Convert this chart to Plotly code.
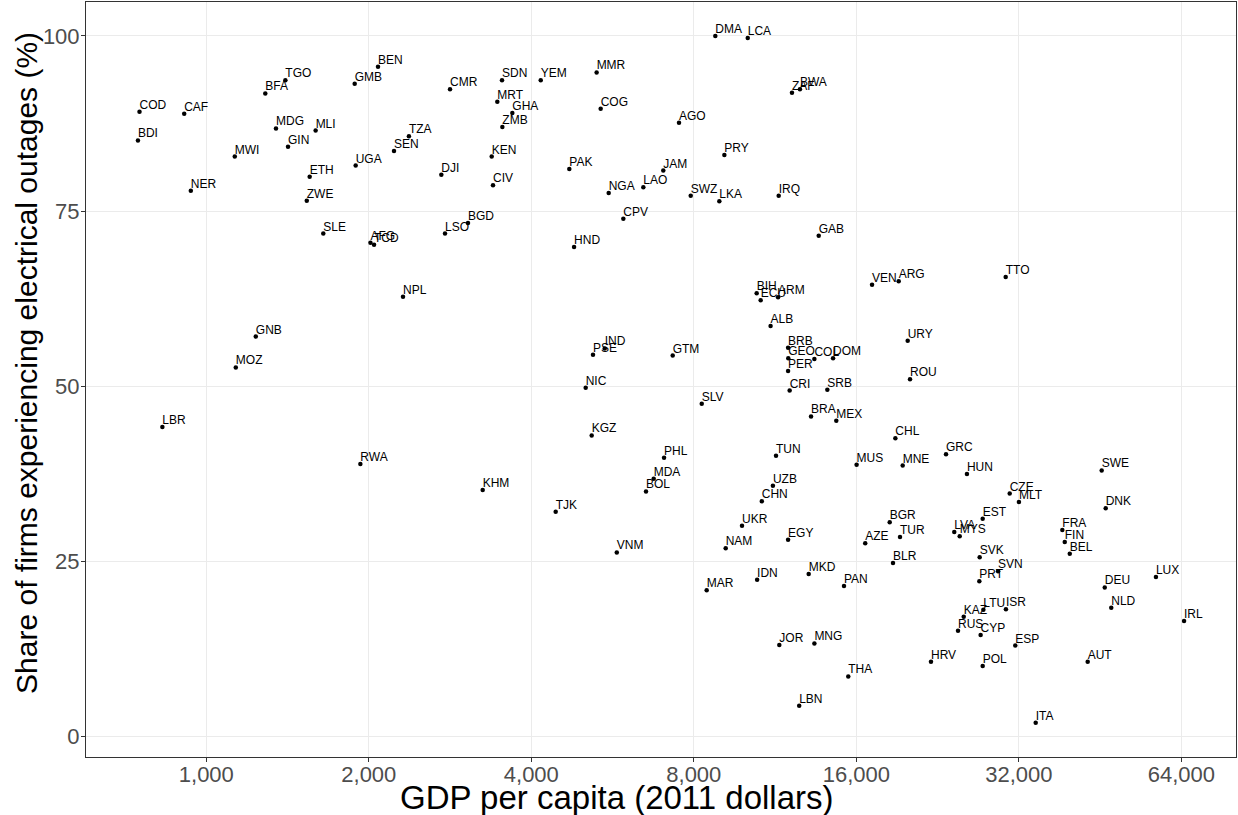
import plotly.graph_objects as go

countries = ["COD","BDI","CAF","NER","LBR","MWI","MOZ","GNB","BFA","MDG","TGO","GIN","ZWE","ETH","MLI","SLE",
             "GMB","UGA","RWA","AFG","TCD","BEN","SEN","NPL","TZA","DJI","LSO","CMR","BGD","KHM","KEN","CIV",
             "MRT","SDN","ZMB","GHA","YEM","TJK","PAK","HND","NIC","KGZ","PSE","MMR","COG","IND","NGA","VNM",
             "CPV","LAO","BOL","MDA","JAM","PHL","GTM","AGO","SWZ","SLV","MAR","DMA","LKA","PRY","NAM","UKR",
             "LCA","BIH","IDN","ECU","CHN","ALB","UZB","TUN","ARM","IRQ","JOR","BRB","PER","EGY","GEO","CRI",
             "ZAF","LBN","BWA","MKD","BRA","COL","MNG","GAB","SRB","DOM","MEX","PAN","THA","MUS","AZE","VEN",
             "BGR","BLR","CHL","ARG","TUR","MNE","URY","ROU","HRV","GRC","LVA","RUS","MYS","KAZ","HUN","PRT",
             "SVK","CYP","EST","POL","LTU","SVN","TTO","ISR","CZE","ESP","MLT","ITA","FRA","FIN","BEL","AUT",
             "SWE","DEU","DNK","NLD","LUX","IRL"]

gdp_per_capita = [752,747,910,936,829,1129,1134,1235,1286,1346,1401,1417,1535,1554,1594,1647,
                  1883,1891,1929,2014,2045,2080,2227,2314,2373,2725,2768,2828,3053,3251,3378,3397,
                  3460,3530,3535,3689,4164,4438,4704,4800,5044,5175,5204,5285,5377,5471,5564,5760,
                  5923,6450,6524,6742,7023,7046,7311,7510,7895,8275,8451,8768,8920,9113,9165,9826,
                  10070,10460,10480,10640,10690,11100,11210,11360,11460,11490,11520,11960,11960,11960,11970,12040,
                  12160,12540,12580,13060,13190,13380,13380,13630,14140,14490,14690,15180,15460,16020,16620,17110,
                  18450,18710,18900,19170,19280,19500,19920,20120,22000,23460,24300,24690,24870,25300,25650,27040,
                  27080,27190,27430,27430,27510,29290,30260,30290,30780,31520,32020,34390,38530,38930,39770,42930,
                  45570,46170,46360,47470,57440,64750]

outage_share = [89.2,85.1,88.9,77.9,44.2,82.8,52.7,57.1,91.8,86.8,93.7,84.2,76.5,79.9,86.5,71.8,
                93.2,81.5,38.9,70.5,70.2,95.6,83.6,62.8,85.7,80.2,71.8,92.4,73.3,35.2,82.8,78.7,
                90.6,93.7,87.0,89.0,93.7,32.1,81.0,69.9,49.8,43.0,54.5,94.8,89.6,55.4,77.6,26.3,
                73.9,78.4,35.0,36.8,80.8,39.8,54.4,87.6,77.2,47.5,20.9,100.0,76.4,83.0,26.9,30.1,
                99.7,63.3,22.4,62.3,33.6,58.6,35.8,40.1,62.7,77.2,13.1,55.5,52.2,28.1,54.0,49.4,
                91.9,4.4,92.4,23.2,45.7,53.9,13.3,71.5,49.5,54.0,45.1,21.5,8.6,38.8,27.6,64.5,
                30.6,24.8,42.6,65.0,28.5,38.7,56.5,51.0,10.7,40.3,29.2,15.1,28.6,17.1,37.5,22.2,
                25.6,14.5,31.1,10.1,18.1,23.6,65.6,18.2,34.7,13.0,33.5,2.0,29.5,27.8,26.1,10.7,
                38.0,21.3,32.6,18.4,22.8,16.5]

x_tick_values = [1000, 2000, 4000, 8000, 16000, 32000, 64000]
x_tick_labels = ["1,000", "2,000", "4,000", "8,000", "16,000", "32,000", "64,000"]
y_tick_values = [0, 25, 50, 75, 100]
y_tick_labels = ["0", "25", "50", "75", "100"]

FONT = "Liberation Sans, Arial, Helvetica, sans-serif"

fig = go.Figure()
fig.add_trace(go.Scatter(
    x=gdp_per_capita, y=outage_share, mode="markers",
    marker=dict(size=4.5, color="black"), hoverinfo="skip", showlegend=False))
fig.add_trace(go.Scatter(
    x=gdp_per_capita, y=outage_share, mode="text", text=countries,
    textposition="top right", textfont=dict(family=FONT, size=12, color="black"),
    hoverinfo="skip", showlegend=False, cliponaxis=False))

axis_common = dict(
    showgrid=True, gridcolor="#EBEBEB", gridwidth=1,
    showline=True, mirror=True, linecolor="#333333", linewidth=1,
    ticks="outside", ticklen=4, tickcolor="#333333", tickwidth=1,
    tickfont=dict(family=FONT, size=22, color="#4D4D4D"),
    zeroline=False,
)
fig.update_xaxes(type="log", range=[2.7771, 4.9075], ticklabelstandoff=-6,
                 tickmode="array", tickvals=x_tick_values, ticktext=x_tick_labels, **axis_common)
fig.update_yaxes(range=[-2.9, 104.85], ticklabelstandoff=-3,
                 tickmode="array", tickvals=y_tick_values, ticktext=y_tick_labels, **axis_common)

fig.update_layout(
    width=1238, height=815,
    margin=dict(l=86, r=2, t=2, b=58),
    plot_bgcolor="white", paper_bgcolor="white",
    font=dict(family=FONT),
    hovermode=False,
    annotations=[
        dict(text="GDP per capita (2011 dollars)", xref="paper", yref="paper",
             x=0.4617, y=-0.054, xanchor="center", yanchor="middle", showarrow=False,
             font=dict(family=FONT, size=33, color="black")),
        dict(text="Share of firms experiencing electrical outages (%)", xref="paper", yref="paper",
             x=-0.0513, y=0.522, xanchor="center", yanchor="middle", textangle=-90, showarrow=False,
             font=dict(family=FONT, size=30, color="black")),
    ],
)

fig.write_html("out.html", config={"displayModeBar": False},
               post_script="document.body.style.margin='0px';")
